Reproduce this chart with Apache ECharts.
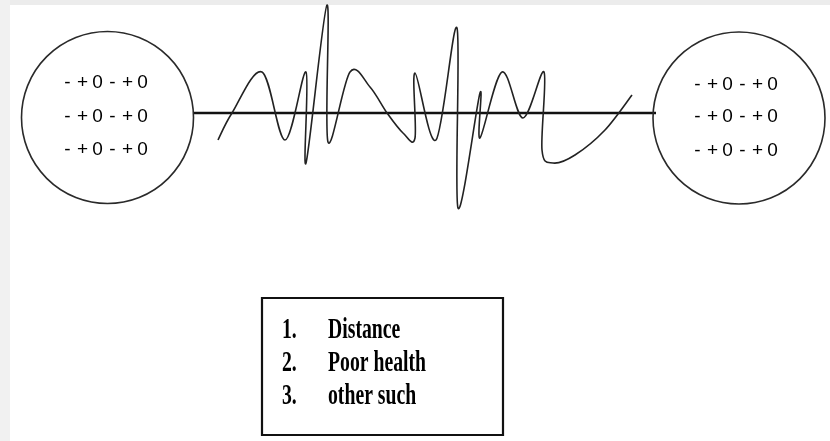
<!DOCTYPE html>
<html>
<head>
<meta charset="utf-8">
<script src="https://cdn.jsdelivr.net/npm/echarts@6/dist/echarts.min.js"></script>
<style>
  html, body { margin: 0; padding: 0; background: #ffffff; }
  #chart { width: 830px; height: 441px; }
</style>
</head>
<body>
<div id="chart"></div>
<script>
// ---- data ----
const circleRowText = ['-+0-+0', '-+0-+0', '-+0-+0'];
const listNumbers = ['1.', '2.', '3.'];
const listItems = ['Distance', 'Poor health', 'other such'];
// wave (x, y in picture units, y downwards)
const waveX = [218, 232, 262, 285, 306, 306, 327, 328, 350, 370, 387, 403, 415, 415, 436, 457, 458, 480, 480, 502, 523, 544, 542, 553, 575, 605, 632];
const waveY = [140, 113, 72, 140, 72, 163, 5, 142, 72, 87, 113, 133, 138, 73, 140, 28, 208, 93, 138, 72, 118, 72, 150, 163, 155, 130, 95];
const connector = [[193, 113], [656, 113]];

// ---- layout (positions / sizes) ----
const nodes = [
  { cx: 107.5, cy: 117.5, rx: 86, ry: 89.5, textX: 105, rowsY: [83, 117, 150] },
  { cx: 739, cy: 118, rx: 86, ry: 89.5, textX: 735, rowsY: [85, 117, 151] }
];
const box = { x: 262, y: 298, w: 241, h: 137 };
const listRowsY = [331, 364, 397];
const numX = 282, itemX = 328;

const wave = waveX.map((x, i) => [x, waveY[i]]);

const chart = echarts.init(document.getElementById('chart'));

function richChars(s) {
  return s.split('').map(c => '{c|' + c + '}').join('');
}

// Catmull-Rom spline through screen points -> SVG path
function splinePath(pts) {
  let d = 'M' + pts[0][0] + ' ' + pts[0][1];
  for (let i = 0; i < pts.length - 1; i++) {
    const p0 = pts[Math.max(0, i - 1)];
    const p1 = pts[i];
    const p2 = pts[i + 1];
    const p3 = pts[Math.min(pts.length - 1, i + 2)];
    const k = 1 / 6;
    const c1x = p1[0] + (p2[0] - p0[0]) * k;
    const c1y = p1[1] + (p2[1] - p0[1]) * k;
    const c2x = p2[0] - (p3[0] - p1[0]) * k;
    const c2y = p2[1] - (p3[1] - p1[1]) * k;
    d += ' C' + c1x + ' ' + c1y + ' ' + c2x + ' ' + c2y + ' ' + p2[0] + ' ' + p2[1];
  }
  return d;
}

const option = {
  animation: false,
  backgroundColor: '#ffffff',
  grid: { left: 0, right: 0, top: 0, bottom: 0 },
  xAxis: { type: 'value', min: 0, max: 830, show: false },
  yAxis: { type: 'value', min: 0, max: 441, inverse: true, show: false },
  graphic: [
    { type: 'rect', shape: { x: 0, y: 0, width: 830, height: 5 }, style: { fill: '#ececec' }, z: 0 },
    { type: 'rect', shape: { x: 0, y: 0, width: 10, height: 441 }, style: { fill: '#f1f1f1' }, z: 0 }
  ],
  series: [
    {
      type: 'line',
      data: connector,
      symbol: 'none',
      lineStyle: { color: '#111', width: 2.5 },
      z: 3
    },
    {
      type: 'custom',
      data: wave,
      renderItem: function (params, api) {
        if (params.dataIndex !== 0) return null;
        const pts = wave.map(p => api.coord(p));
        return {
          type: 'path',
          shape: { pathData: splinePath(pts) },
          style: { fill: 'none', stroke: '#222', lineWidth: 1.6 }
        };
      },
      z: 4
    },
    {
      type: 'custom',
      data: nodes.map(n => [n.cx, n.cy, n.rx, n.ry]),
      renderItem: function (params, api) {
        const c = api.coord([api.value(0), api.value(1)]);
        const s = api.size([api.value(2), api.value(3)]);
        return {
          type: 'path',
          shape: {
            pathData: 'M0 50 A50 50 0 1 1 100 50 A50 50 0 1 1 0 50 Z',
            x: c[0] - s[0], y: c[1] - s[1], width: s[0] * 2, height: s[1] * 2
          },
          style: { fill: 'none', stroke: '#2a2a2a', lineWidth: 1.6 }
        };
      },
      z: 5
    },
    {
      type: 'custom',
      data: nodes.flatMap(n => n.rowsY.map((y, i) => [n.textX, y, i])),
      renderItem: function (params, api) {
        const c = api.coord([api.value(0), api.value(1)]);
        return {
          type: 'text',
          x: c[0], y: c[1],
          style: {
            text: richChars(circleRowText[api.value(2)]),
            align: 'center', verticalAlign: 'middle',
            rich: {
              c: { width: 15, align: 'center', fontFamily: 'Liberation Sans', fontSize: 19, color: '#000' }
            }
          }
        };
      },
      z: 6
    },
    {
      type: 'custom',
      data: [[box.x, box.y, box.w, box.h]],
      renderItem: function (params, api) {
        const p = api.coord([api.value(0), api.value(1)]);
        const s = api.size([api.value(2), api.value(3)]);
        return {
          type: 'rect',
          shape: { x: p[0], y: p[1], width: s[0], height: s[1] },
          style: { fill: '#fff', stroke: '#111', lineWidth: 2.2 }
        };
      },
      z: 5
    },
    {
      type: 'custom',
      data: listItems.map((t, i) => [listRowsY[i], i]),
      renderItem: function (params, api) {
        const i = api.value(1);
        const cN = api.coord([numX, api.value(0)]);
        const cI = api.coord([itemX, api.value(0)]);
        const st = { fontFamily: 'Liberation Serif', fontWeight: 'bold', fontSize: 29, fill: '#000', align: 'left', verticalAlign: 'middle' };
        return {
          type: 'group',
          children: [
            { type: 'text', x: cN[0], y: cN[1], scaleX: 0.68, style: Object.assign({ text: listNumbers[i] }, st) },
            { type: 'text', x: cI[0], y: cI[1], scaleX: 0.68, style: Object.assign({ text: listItems[i] }, st) }
          ]
        };
      },
      z: 7
    }
  ]
};
chart.setOption(option);
</script>
</body>
</html>
